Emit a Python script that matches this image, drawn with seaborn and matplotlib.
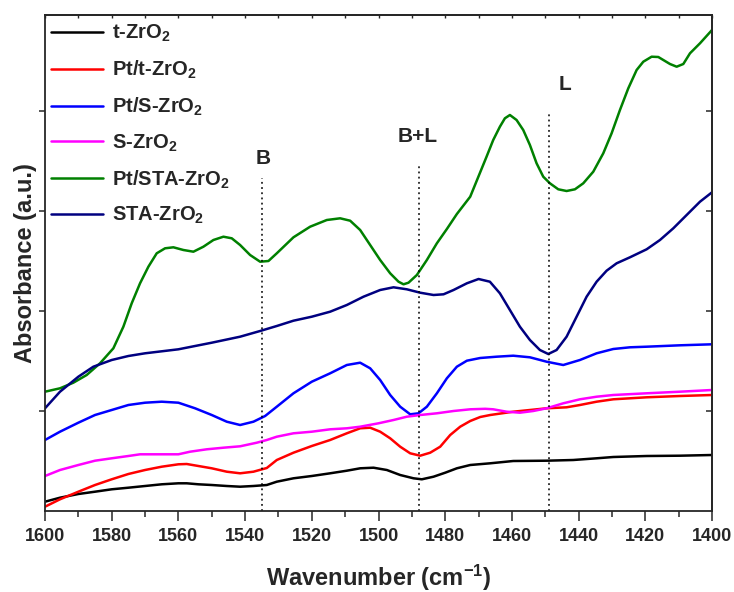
import matplotlib
matplotlib.use("Agg")
import matplotlib.pyplot as plt
import seaborn as sns
from matplotlib.ticker import MultipleLocator

# ===============================
# style
# ===============================
sns.set_style("ticks")
plt.rcParams['font.family'] = ['Liberation Sans', 'DejaVu Sans']
plt.rcParams['font.weight'] = 'bold'
plt.rcParams['mathtext.fontset'] = 'custom'
plt.rcParams['mathtext.rm'] = 'Liberation Sans:bold'
plt.rcParams['mathtext.bf'] = 'Liberation Sans:bold'
plt.rcParams['mathtext.default'] = 'rm'

# ===============================
# data
# ===============================
wn_t = [1600, 1595.5, 1590, 1585, 1580, 1575, 1570, 1565, 1560, 1557.5, 1554, 1550,
        1545.5, 1541.5, 1537.5, 1533.5, 1530.5, 1525.5, 1520, 1514.5, 1509.5, 1505.5,
        1501.5, 1497.5, 1493.5, 1489.5, 1487, 1483.5, 1480, 1476.5, 1472.5, 1466.5,
        1459.6, 1449.6, 1441.6, 1434.6, 1429.6, 1419.6, 1409.6, 1400]
abs_t = [0.093, 0.133, 0.17, 0.193, 0.217, 0.233, 0.25, 0.267, 0.277, 0.277, 0.267, 0.26,
         0.25, 0.243, 0.25, 0.26, 0.293, 0.327, 0.35, 0.377, 0.403, 0.427,
         0.433, 0.41, 0.36, 0.327, 0.317, 0.343, 0.383, 0.427, 0.46, 0.477,
         0.50, 0.503, 0.51, 0.527, 0.54, 0.55, 0.553, 0.56]

wn_pt_t = [1600, 1595.5, 1590, 1585, 1580, 1575, 1570, 1565, 1560, 1557.5, 1554, 1550,
           1545.5, 1541.5, 1537.5, 1533.5, 1530.5, 1525.5, 1520, 1514.5, 1509.5, 1505.5,
           1502.5, 1499.5, 1496.5, 1493.5, 1490.5, 1487.5, 1484.5, 1481.5, 1478.5,
           1475.5, 1472.5, 1469.5, 1466.5, 1459.6, 1449.6, 1443.6, 1439.6, 1434.6,
           1429.6, 1419.6, 1409.6, 1400]
abs_pt_t = [0.043, 0.117, 0.193, 0.26, 0.317, 0.37, 0.41, 0.443, 0.467, 0.47, 0.45, 0.427,
            0.393, 0.377, 0.393, 0.43, 0.51, 0.583, 0.65, 0.71, 0.777, 0.827,
            0.833, 0.793, 0.727, 0.643, 0.577, 0.553, 0.583, 0.643, 0.76,
            0.843, 0.90, 0.94, 0.96, 0.993, 1.027, 1.037, 1.06, 1.093,
            1.117, 1.137, 1.15, 1.16]

wn_pt_s = [1600, 1595.5, 1590, 1585, 1580, 1575, 1570, 1565, 1560, 1555, 1550, 1545.5,
           1541.5, 1537.5, 1534, 1530.5, 1525.5, 1520, 1514.5, 1509.5, 1505.5, 1502.5,
           1499.5, 1496.5, 1493.5, 1490.5, 1488, 1485.5, 1482.5, 1479.5, 1476.5,
           1473.5, 1469.5, 1464.6, 1459.6, 1454.6, 1449.6, 1444.6, 1439.6, 1434.6,
           1429.6, 1424.6, 1419.6, 1409.6, 1400]
abs_pt_s = [0.71, 0.793, 0.883, 0.96, 1.01, 1.06, 1.083, 1.093, 1.083, 1.027, 0.96, 0.893,
            0.86, 0.893, 0.95, 1.043, 1.177, 1.293, 1.377, 1.46, 1.483, 1.427,
            1.31, 1.16, 1.043, 0.967, 0.977, 1.043, 1.177, 1.327, 1.443,
            1.503, 1.53, 1.543, 1.553, 1.537, 1.493, 1.46, 1.51, 1.577,
            1.62, 1.637, 1.643, 1.657, 1.667]

wn_s = [1600, 1595.5, 1590, 1585, 1580, 1575, 1571.5, 1566.5, 1560, 1556.5, 1551.5,
        1546.5, 1541.5, 1536.5, 1533.5, 1530.5, 1525.5, 1520, 1514.5, 1509.5, 1505.5,
        1500, 1495.5, 1491.5, 1487.5, 1482.5, 1477.5, 1472.5, 1468, 1465.6, 1461.6,
        1457.6, 1453.6, 1449.6, 1444.6, 1439.6, 1434.6, 1429.6, 1419.6, 1409.6, 1400]
abs_s = [0.35, 0.41, 0.46, 0.503, 0.527, 0.55, 0.567, 0.567, 0.567, 0.593, 0.617,
         0.633, 0.647, 0.683, 0.71, 0.743, 0.777, 0.793, 0.817, 0.827, 0.843,
         0.877, 0.91, 0.943, 0.96, 0.977, 1.00, 1.017, 1.022, 1.017, 0.993,
         0.983, 1.00, 1.027, 1.077, 1.117, 1.143, 1.16, 1.177, 1.193, 1.21]

wn_pt_sta = [1600, 1595.5, 1591.5, 1587.5, 1583.5, 1579.5, 1576.5, 1574, 1571.5, 1569,
             1566.5, 1564, 1561.5, 1558.5, 1555.5, 1552.5, 1549.5, 1546.5, 1544, 1541.5,
             1538.5, 1535.5, 1533, 1530.5, 1525.5, 1520.5, 1515.5, 1511.5, 1508.5,
             1505.5, 1502.5, 1499.5, 1496.5, 1494, 1492.5, 1491, 1488.5, 1485.5, 1482.5,
             1479.5, 1476.5, 1472.5, 1467.6, 1465.6, 1463.6, 1462.1, 1460.6, 1458.6,
             1456.6, 1454.6, 1452.6, 1450.6, 1448.6, 1446.1, 1443.6, 1441.1, 1438.6,
             1435.6, 1432.6, 1430.1, 1427.6, 1425.1, 1422.6, 1420.6, 1418.1, 1416.1,
             1414.6, 1412.6, 1410.6, 1408.6, 1406.6, 1403.6, 1400]
abs_pt_sta = [1.193, 1.227, 1.283, 1.36, 1.477, 1.627, 1.843, 2.077, 2.277, 2.443,
              2.577, 2.627, 2.637, 2.61, 2.593, 2.643, 2.71, 2.743, 2.727, 2.66,
              2.56, 2.493, 2.50, 2.577, 2.737, 2.843, 2.91, 2.927, 2.903,
              2.81, 2.66, 2.51, 2.377, 2.293, 2.267, 2.283, 2.36, 2.51, 2.677,
              2.82, 2.97, 3.143, 3.543, 3.71, 3.843, 3.927, 3.96, 3.91,
              3.81, 3.66, 3.477, 3.343, 3.277, 3.217, 3.20, 3.217, 3.277,
              3.393, 3.577, 3.777, 4.01, 4.227, 4.41, 4.493, 4.543, 4.54,
              4.51, 4.47, 4.443, 4.47, 4.577, 4.677, 4.81]

wn_sta = [1600, 1595.5, 1590, 1585.5, 1580, 1575, 1570, 1560, 1550, 1541.5, 1535.5,
          1530.5, 1525.5, 1520, 1514.5, 1509.5, 1504.5, 1499.5, 1495.5, 1491.5, 1487.5,
          1483.5, 1480.5, 1477.5, 1473.5, 1470, 1466.6, 1463.6, 1460.6, 1457.6, 1454.6,
          1451.6, 1449.1, 1446.6, 1443.6, 1440.6, 1437.6, 1434.6, 1431.6, 1428.6,
          1424.6, 1419.6, 1415.6, 1411.6, 1407.6, 1403.6, 1400]
abs_sta = [1.027, 1.193, 1.343, 1.443, 1.51, 1.55, 1.577, 1.617, 1.683, 1.743, 1.80,
           1.85, 1.903, 1.943, 1.993, 2.06, 2.143, 2.21, 2.237, 2.217, 2.183,
           2.16, 2.167, 2.21, 2.277, 2.32, 2.293, 2.177, 2.01, 1.843, 1.71,
           1.61, 1.57, 1.61, 1.743, 1.943, 2.143, 2.293, 2.403, 2.477,
           2.537, 2.617, 2.71, 2.827, 2.96, 3.093, 3.187]

# 标记线 (B, B+L, L)
mark_pos = [1535, 1488, 1449]
mark_top = [3.33, 3.46, 3.98]
mark_text = ['B', 'B+L', 'L']
mark_text_x = [1534.6, 1488.3, 1444]
mark_text_y = [3.52, 3.74, 4.27]

# ===============================
# plot
# ===============================
fig = plt.figure(figsize=(7.34, 5.92), dpi=100)
ax = fig.add_axes([45 / 734, 81 / 592, 667 / 734, 496 / 592])

series = [
    (wn_t, abs_t, 'black', 't-ZrO$_2$'),
    (wn_pt_t, abs_pt_t, '#ff0000', 'Pt/t-ZrO$_2$'),
    (wn_pt_s, abs_pt_s, '#0000ff', 'Pt/S-ZrO$_2$'),
    (wn_s, abs_s, '#ff00ff', 'S-ZrO$_2$'),
    (wn_pt_sta, abs_pt_sta, '#008000', 'Pt/STA-ZrO$_2$'),
    (wn_sta, abs_sta, '#000080', 'STA-ZrO$_2$'),
]
for xs, ys, c, lab in series:
    sns.lineplot(x=xs, y=ys, color=c, lw=1.8, label=lab, ax=ax)

for xp, yt in zip(mark_pos, mark_top):
    ax.plot([xp, xp], [0, yt], color='black', ls=(0, (1.2, 2.2)), lw=1.1)
for tx, ty, txt in zip(mark_text_x, mark_text_y, mark_text):
    ax.text(tx, ty, txt, ha='center', va='center', fontsize=15, fontweight='bold')

ax.set_xlim(1600, 1400)
ax.set_ylim(0, 4.96)
ax.xaxis.set_major_locator(MultipleLocator(20))
ax.xaxis.set_minor_locator(MultipleLocator(10))
ax.set_yticks([1, 2, 3, 4])
ax.set_yticklabels([])

ax.tick_params(axis='x', which='major', direction='out', length=7, width=1.1,
               labelsize=13, pad=5, top=False)
ax.tick_params(axis='x', which='minor', direction='out', length=4, width=1.1, top=False)
ax.tick_params(axis='y', which='major', direction='out', length=4, width=1.1,
               right=False)
for lab in ax.get_xticklabels():
    lab.set_fontweight('bold')
for sp in ax.spines.values():
    sp.set_linewidth(1.3)

# 右侧与顶部的内向小刻度
ax_r = ax.secondary_yaxis('right')
ax_r.set_yticks([1, 2, 3, 4])
ax_r.set_yticklabels([])
ax_r.tick_params(direction='in', length=4, width=1.1)
ax_r.spines['right'].set_linewidth(1.3)
ax_t = ax.secondary_xaxis('top')
ax_t.xaxis.set_major_locator(MultipleLocator(10))
ax_t.set_xticklabels([])
ax_t.tick_params(direction='in', length=2.5, width=1.0)
ax_t.spines['top'].set_linewidth(1.3)

ax.set_xlabel('Wavenumber (cm$^{-1}$)', fontsize=17, fontweight='bold', labelpad=13)
ax.set_ylabel('Absorbance (a.u.)', fontsize=17, fontweight='bold', labelpad=-2)

leg = ax.legend(loc='upper left', bbox_to_anchor=(-0.012, 1.012), frameon=False,
                fontsize=14.5, handlelength=2.6, handletextpad=0.4,
                labelspacing=0.72, borderaxespad=0.3)
for t in leg.get_texts():
    t.set_fontweight('bold')

fig.savefig('out.png', dpi=100)
plt.close(fig)
